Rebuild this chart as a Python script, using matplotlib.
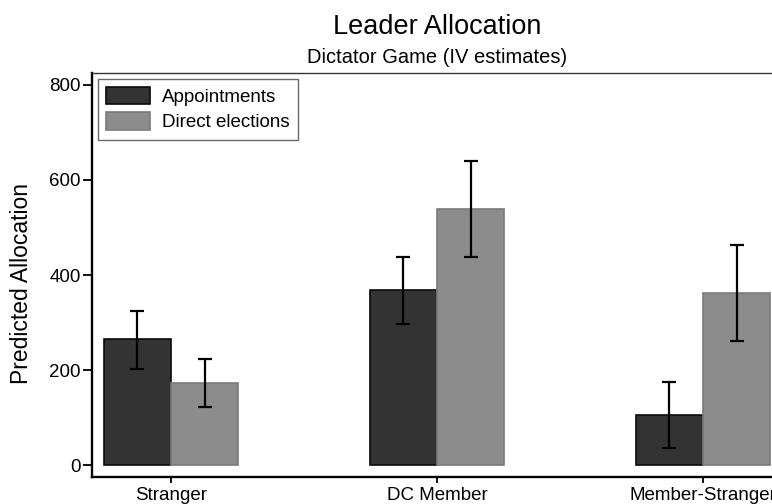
import numpy as np
import matplotlib
matplotlib.use("Agg")
import matplotlib.pyplot as plt
from matplotlib.patches import Patch

plt.rcParams['font.family'] = ['Liberation Sans', 'DejaVu Sans']

categories = ["Stranger", "DC Member", "Member-Stranger"]
series_names = ["Appointments", "Direct elections"]
appointments = [265, 368, 105]
appointments_lo = [202, 297, 36]
appointments_hi = [324, 438, 175]
direct = [173, 539, 362]
direct_lo = [122, 438, 261]
direct_hi = [223, 640, 463]
y_ticks = [0, 200, 400, 600, 800]

W, H = 772, 504
fig = plt.figure(figsize=(W / 100, H / 100), dpi=100)
# plot region runs slightly past the right edge of the figure
left, right, top, bottom = 92, 782, 73, 477
ax = fig.add_axes([left / W, (H - bottom) / H, (right - left) / W, (bottom - top) / H])

x = np.arange(len(categories))
bw = 0.252
dark, light = "#333333", "#8c8c8c"
dark_edge, light_edge = "#0a0a0a", "#7a7a7a"

for vals, lo, hi, off, fc, ec in [
    (appointments, appointments_lo, appointments_hi, -bw / 2, dark, dark_edge),
    (direct, direct_lo, direct_hi, bw / 2, light, light_edge),
]:
    vals = np.array(vals, float)
    ax.bar(x + off, vals, width=bw, color=fc, edgecolor=ec, linewidth=1.2, zorder=2)
    yerr = np.vstack([vals - np.array(lo), np.array(hi) - vals])
    ax.errorbar(x + off, vals, yerr=yerr, fmt="none", ecolor="black",
                elinewidth=1.6, capsize=5, capthick=1.6, zorder=3)

ax.set_xlim(-0.297, 2.297)
ax.set_ylim(-25, 825)
ax.set_xticks(x)
ax.set_xticklabels(categories, fontsize=13.5)
ax.set_yticks(y_ticks)
ax.set_yticklabels([str(v) for v in y_ticks], fontsize=13.5)
ax.tick_params(axis="both", direction="out", width=1.3, colors="black")
ax.tick_params(axis="y", length=6.5, pad=1.5)
ax.tick_params(axis="x", length=4.5, pad=2.8)

for s in ["left", "bottom"]:
    ax.spines[s].set_linewidth(1.7)
    ax.spines[s].set_color("black")
ax.spines["top"].set_linewidth(1.0)
ax.spines["top"].set_color("#333333")
ax.spines["right"].set_visible(False)

ax.set_ylabel("Predicted Allocation", fontsize=16.5)
ax.yaxis.set_label_coords(33 / W, 1 - 284 / H, transform=fig.transFigure)

handles = [Patch(facecolor=dark, edgecolor=dark_edge, linewidth=1.2),
           Patch(facecolor=light, edgecolor=light_edge, linewidth=1.2)]
leg = ax.legend(handles, series_names, loc="upper left", fontsize=13.5,
                frameon=True, fancybox=False, handlelength=2.35, handleheight=1.05,
                borderaxespad=0.3, labelspacing=0.32, handletextpad=0.65,
                borderpad=0.45)
leg.get_frame().set_edgecolor("#444444")
leg.get_frame().set_linewidth(1.0)

cx = (left + right) / 2 / W
fig.text(cx, 1 - 34 / H, "Leader Allocation", ha="center", va="baseline", fontsize=19.5)
fig.text(cx, 1 - 63 / H, "Dictator Game (IV estimates)", ha="center", va="baseline", fontsize=14.5)

fig.savefig("out.png", dpi=100)
